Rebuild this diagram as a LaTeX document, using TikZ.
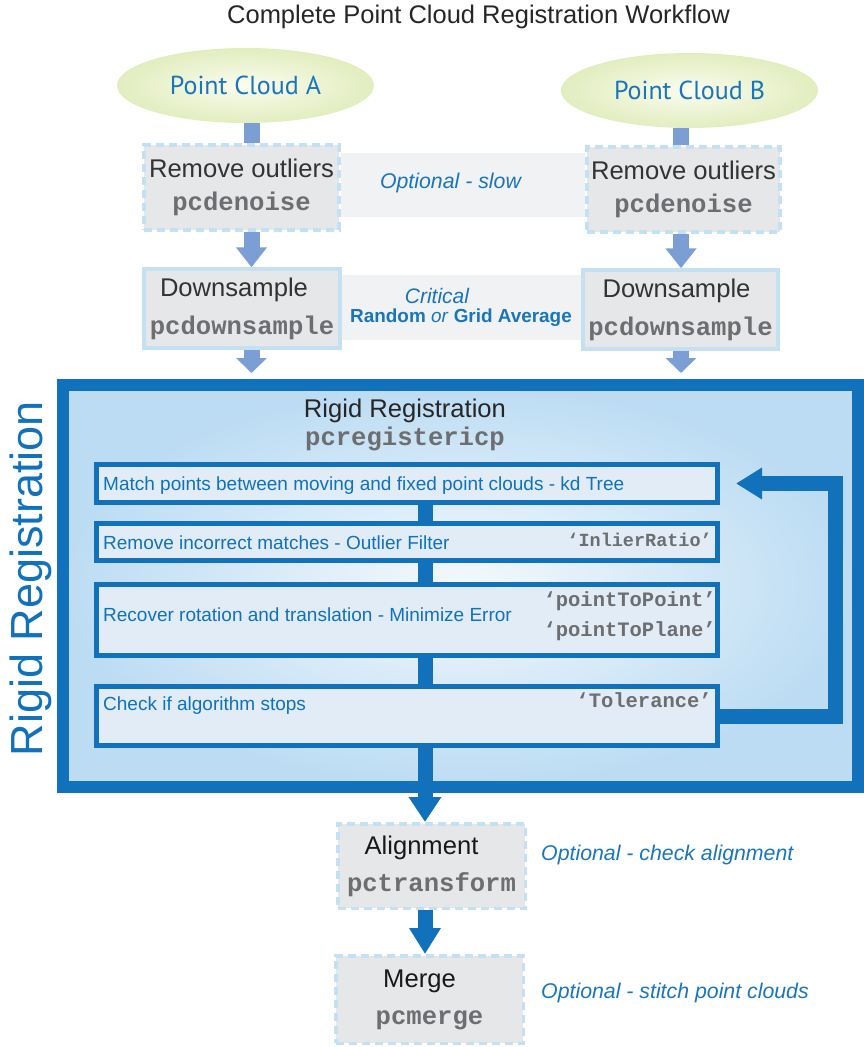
\documentclass[tikz,border=0pt]{standalone}
\usepackage{fontspec}
\setmainfont{Liberation Sans}
\newfontfamily\codefont{Liberation Mono}
\newfontfamily\cloudfont{PT Sans}
\usepackage{tikz}
\usetikzlibrary{positioning,shapes.geometric,arrows.meta}

\definecolor{rblue}{HTML}{1172BB}
\definecolor{tblue}{HTML}{1A75BB}
\definecolor{arrowlight}{HTML}{7B9FD4}
\definecolor{boxgray}{HTML}{E6E7E8}
\definecolor{lineblue}{HTML}{C4E1F3}
\definecolor{bandgray}{HTML}{F1F2F4}
\definecolor{stepfill}{HTML}{E1ECF6}
\definecolor{regout}{HTML}{BCDCF3}
\definecolor{regin}{HTML}{F4F9FD}
\definecolor{cloudin}{HTML}{FAFCEE}
\definecolor{cloudout}{HTML}{E2EDBF}
\definecolor{tdark}{HTML}{333333}
\definecolor{codegray}{HTML}{6D6E71}

\newcommand{\pccode}[1]{{\codefont\bfseries\color{codegray}#1}}

\begin{document}
\begin{tikzpicture}[x=1pt,y=-1pt,
    cloud/.style={ellipse,minimum width=257pt,minimum height=75pt,inner sep=0pt,inner color=cloudin,outer color=cloudout,text=tblue,font=\cloudfont\fontsize{26}{30}\selectfont},
    toolbox/.style={rectangle,fill=boxgray,draw=lineblue,line width=3.5pt,inner sep=0pt,align=center,text=tdark,font=\fontsize{25.6}{33}\selectfont},
    optbox/.style={toolbox,dash pattern=on 8pt off 5pt},
    stepbox/.style={rectangle,draw=rblue,line width=5pt,fill=stepfill,minimum width=621pt,inner sep=0pt},
    steptext/.style={anchor=west,inner sep=0pt,text=rblue,font=\fontsize{19}{23}\selectfont},
    stepcode/.style={anchor=east,inner sep=0pt,text=codegray,font=\codefont\bfseries\fontsize{#1}{23}\selectfont},
    stepcode/.default=20.5,
    note/.style={inner sep=0pt,text=tblue,font=\itshape\fontsize{21.3}{25}\selectfont},
    lightflow/.style={draw=arrowlight,line width=16pt},
    darkflow/.style={draw=rblue,line width=15pt}]
  \useasboundingbox (0,0) rectangle (864,1047);
  \node[text=black!85,font=\fontsize{25.5}{30}\selectfont] (title) at (478.5,17) {Complete Point Cloud Registration Workflow};

  \fill[bandgray] (341,153) rectangle (585,217);
  \fill[bandgray] (342,275) rectangle (581,340);

  \node[cloud] (cloudA) at (245.5,85.5) {Point Cloud A};
  \node[cloud] (cloudB) at (689.5,90.5) {Point Cloud B};

  \node[optbox,minimum width=195pt,minimum height=85pt] (denoiseA) at (241.5,187.5) {Remove outliers\\\pccode{pcdenoise}};
  \node[optbox,minimum width=193pt,minimum height=85pt] (denoiseB) at (683.5,189.5) {Remove outliers\\\pccode{pcdenoise}};
  \node[toolbox,minimum width=196pt,minimum height=79pt] (downA) at (242,308.5) {Downsample\kern16pt\\[5pt]\pccode{pcdownsample}};
  \node[toolbox,minimum width=195pt,minimum height=79pt] (downB) at (680.5,309.5) {Downsample\kern8pt\\[5pt]\pccode{pcdownsample}};

  \node[note] (slow) at (450.5,183) {Optional - slow};
  \node[note,font=\itshape\fontsize{21}{25}\selectfont] (critical) at (437,296) {Critical};
  \node[note,font=\fontsize{18.9}{22}\selectfont] (method) at (461,318) {\textbf{Random} \textit{or} \textbf{Grid Average}};

  \node[draw=rblue,line width=12pt,inner color=regin,outer color=regout,minimum width=795pt,minimum height=402pt] (icp) at (460.5,586) {};
  \node[rotate=90,anchor=base,text=rblue,font=\fontsize{45}{50}\selectfont] (icplabel) at (42,578.5) {Rigid Registration};
  \node[align=center,text=black!85,font=\fontsize{25.6}{28}\selectfont] (icpname) at (405,424.5) {Rigid Registration\\\pccode{pcregistericp}};

  \node[stepbox,minimum height=38pt] (match) at (407,483.5) {};
  \node[stepbox,minimum height=37pt] (reject) at (407,542) {};
  \node[stepbox,minimum height=71pt] (minimize) at (407,620) {};
  \node[stepbox,minimum height=59pt] (check) at (407,716) {};

  \node[steptext] (matchtext) at (103,486) {Match points between moving and fixed point clouds - kd Tree};
  \node[steptext] (rejecttext) at (103,543) {Remove incorrect matches - Outlier Filter};
  \node[steptext] (minimizetext) at (103,615) {Recover rotation and translation - Minimize Error};
  \node[steptext] (checktext) at (103,706) {Check if algorithm stops};
  \node[stepcode=18.5] (ratio) at (712,540) {‘InlierRatio’};
  \node[stepcode] (ptp) at (716,601) {‘pointToPoint’};
  \node[stepcode,below=30pt of ptp.east,anchor=east] (ptpl) {‘pointToPlane’};
  \node[stepcode] (tol) at (712,700) {‘Tolerance’};

  \coordinate (colA) at (251.5,0);
  \coordinate (colB) at (681,0);
  \coordinate (colC) at (425,0);
  \coordinate (loopx) at (835,0);
  \coordinate (icptop) at ([yshift=6pt]icp.north);

  \draw[lightflow] (cloudA.south -| colA) -- (denoiseA.north -| colA);
  \draw[lightflow] (cloudB.south -| colB) -- (denoiseB.north -| colB);
  \draw[lightflow,-{Triangle[width=30pt,length=20pt]}] (denoiseA.south -| colA) -- (downA.north -| colA);
  \draw[lightflow,-{Triangle[width=30pt,length=20pt]}] (denoiseB.south -| colB) -- (downB.north -| colB);
  \draw[lightflow,-{Triangle[width=30pt,length=15pt]}] (downA.south -| colA) -- (icptop -| colA);
  \draw[lightflow,-{Triangle[width=30pt,length=15pt]}] (downB.south -| colB) -- (icptop -| colB);

  \draw[darkflow] (match.south -| colC) -- (reject.north -| colC);
  \draw[darkflow] (reject.south -| colC) -- (minimize.north -| colC);
  \draw[darkflow] (minimize.south -| colC) -- (check.north -| colC);
  \draw[darkflow,-{Triangle[width=30pt,length=26pt]}] (check.east) -- (check.east -| loopx) -- (match.east -| loopx) -- ([xshift=16pt]match.east);

  \node[optbox,minimum width=187.5pt,minimum height=84.5pt,text=black!90] (align) at (431.5,866) {Alignment\kern20pt\\[4pt]\pccode{pctransform}};
  \node[optbox,minimum width=187.5pt,minimum height=87.5pt,text=black!90] (merge) at (429.5,999.5) {Merge\kern20pt\\[4pt]\pccode{pcmerge}};
  \node[note,anchor=west] (alignnote) at (541,855) {Optional - check alignment};
  \node[note,anchor=west] (mergenote) at (541,993) {Optional - stitch point clouds};

  \draw[darkflow,-{Triangle[width=31pt,length=25pt]}] (check.south -| colC) -- (align.north -| colC);
  \draw[darkflow,-{Triangle[width=30pt,length=26pt]}] (align.south -| colC) -- (merge.north -| colC);
\end{tikzpicture}
\end{document}
